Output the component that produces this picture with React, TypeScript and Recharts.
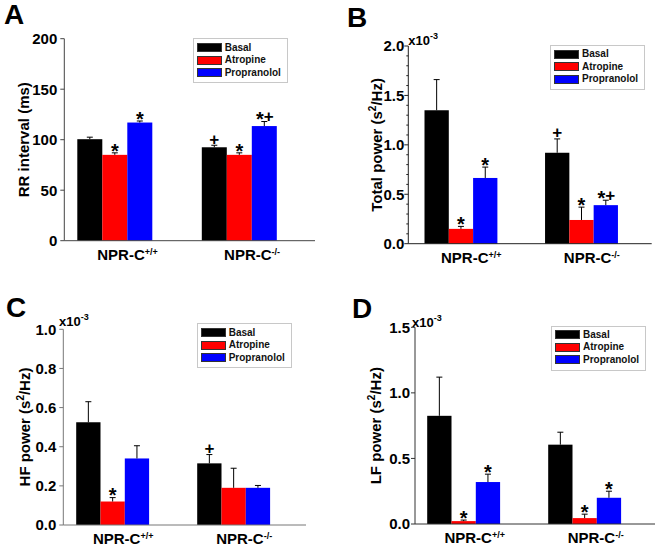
import { BarChart, Bar, XAxis, YAxis, Legend } from 'recharts'

const genotypes = ['+/+', '-/-']
const seriesNames = ['Basal', 'Atropine', 'Propranolol']
const seriesColors = ['#000000', '#ff0000', '#0000ff']

// A - RR interval (ms)
const rrBasal = [100.5, 92.5]
const rrAtropine = [85, 85]
const rrPropranolol = [117, 113.5]
const rrBasalErr = [2, 2]
const rrAtropineErr = [2, 2]
const rrPropranololErr = [1.5, 4.5]
const rrBasalMark = ['', '+']
const rrAtropineMark = ['*', '*']
const rrPropranololMark = ['*', '*+']
const rrTicks = [0, 50, 100, 150, 200]

// B - total power (x10^-3 s2/Hz)
const tpBasal = [1.35, 0.92]
const tpAtropine = [0.15, 0.24]
const tpPropranolol = [0.665, 0.39]
const tpBasalErr = [0.31, 0.14]
const tpAtropineErr = [0.025, 0.13]
const tpPropranololErr = [0.11, 0.05]
const tpBasalMark = ['', '+']
const tpAtropineMark = ['*', '*']
const tpPropranololMark = ['*', '*+']
const tpTicks = [0, 0.1, 0.2, 0.3, 0.4, 0.5, 0.6, 0.7, 0.8, 0.9, 1, 1.1, 1.2, 1.3, 1.4, 1.5, 1.6, 1.7, 1.8, 1.9, 2]

// C - HF power
const hfBasal = [0.525, 0.315]
const hfAtropine = [0.12, 0.19]
const hfPropranolol = [0.34, 0.19]
const hfBasalErr = [0.105, 0.045]
const hfAtropineErr = [0.02, 0.1]
const hfPropranololErr = [0.065, 0.012]
const hfBasalMark = ['', '+']
const hfAtropineMark = ['*', '']
const hfPropranololMark = ['', '']
const hfTicks = [0, 0.2, 0.4, 0.6, 0.8, 1]

// D - LF power
const lfBasal = [0.825, 0.605]
const lfAtropine = [0.022, 0.045]
const lfPropranolol = [0.32, 0.2]
const lfBasalErr = [0.295, 0.095]
const lfAtropineErr = [0.008, 0.03]
const lfPropranololErr = [0.06, 0.05]
const lfBasalMark = ['', '']
const lfAtropineMark = ['*', '*']
const lfPropranololMark = ['*', '*']
const lfTicks = [0, 0.5, 1, 1.5]

const FONT = '"Liberation Sans", Arial, sans-serif'

function buildRows(means: number[][], errs: number[][], marks: string[][]) {
  return genotypes.map((g, i) => {
    const row: any = { g }
    seriesNames.forEach((s, k) => {
      row[s] = means[k][i]
      row[s + 'Err'] = errs[k][i]
      row[s + 'Mark'] = marks[k][i]
    })
    return row
  })
}

const rrRows = buildRows(
  [rrBasal, rrAtropine, rrPropranolol],
  [rrBasalErr, rrAtropineErr, rrPropranololErr],
  [rrBasalMark, rrAtropineMark, rrPropranololMark],
)
const tpRows = buildRows(
  [tpBasal, tpAtropine, tpPropranolol],
  [tpBasalErr, tpAtropineErr, tpPropranololErr],
  [tpBasalMark, tpAtropineMark, tpPropranololMark],
)
const hfRows = buildRows(
  [hfBasal, hfAtropine, hfPropranolol],
  [hfBasalErr, hfAtropineErr, hfPropranololErr],
  [hfBasalMark, hfAtropineMark, hfPropranololMark],
)
const lfRows = buildRows(
  [lfBasal, lfAtropine, lfPropranolol],
  [lfBasalErr, lfAtropineErr, lfPropranololErr],
  [lfBasalMark, lfAtropineMark, lfPropranololMark],
)

type Cfg = {
  plot: [number, number, number, number]
  max: number
  ticks: number[]
  major: number
  decimals: number
  pad: [number, number]
  barSize: number
  legend: [number, number]
  tickGap: number
  catDx: number
  axisColor: string
}

const makeShape = (key: string) => (p: any) => {
  const { x, y, width, height, fill, payload } = p
  const v = payload[key]
  const per = v ? height / v : 0
  const errPx = payload[key + 'Err'] * per
  const cx = x + width / 2
  const capY = y - errPx
  const mark: string = payload[key + 'Mark']
  const star = (sx: number) => (
    <text x={sx} y={capY + 4.8} textAnchor="middle" fontSize={20} fontWeight="bold" fontFamily={FONT} fill="#000">*</text>
  )
  const plus = (sx: number, dy: number) => (
    <text x={sx} y={capY + dy} textAnchor="middle" fontSize={17} fontWeight="bold" fontFamily={FONT} fill="#000">+</text>
  )
  return (
    <g>
      <rect x={x} y={y} width={width} height={height} fill={fill} />
      {errPx > 0.5 && (
        <g stroke="#000" strokeWidth={1}>
          <line x1={cx} x2={cx} y1={y} y2={capY} />
          <line x1={cx - 3} x2={cx + 3} y1={capY} y2={capY} />
        </g>
      )}
      {mark === '*' && star(cx)}
      {mark === '+' && plus(cx, -0.5)}
      {mark === '*+' && (
        <g>
          {star(cx - 4.5)}
          {plus(cx + 4.5, 0.7)}
        </g>
      )}
    </g>
  )
}

function LegendBox(props: any) {
  const fromPayload = (props.payload || []).map((it: any) => ({ name: it.value, color: it.color }))
  const items = seriesNames.map((n, i) => {
    const hit = fromPayload.find((it: any) => it.name === n)
    return hit || { name: n, color: seriesColors[i] }
  })
  return (
    <div style={{
      width: 95, height: 45, boxSizing: 'border-box', border: '1px solid #c8c8c8',
      background: '#fff', padding: '2px 0 0 3px', fontFamily: FONT,
    }}>
      {items.map((it: any) => (
        <div key={it.name} style={{ display: 'flex', alignItems: 'center', height: 12.5 }}>
          <div style={{ width: 25, height: 9, background: it.color, boxSizing: 'border-box', border: '1px solid #333' }} />
          <span style={{ fontSize: 10, fontWeight: 'bold', marginLeft: 3, color: '#111', lineHeight: '12px' }}>{it.name}</span>
        </div>
      ))}
    </div>
  )
}

function Panel({ rows, cfg }: { rows: any[]; cfg: Cfg }) {
  const [x0, x1, y0, y1] = cfg.plot
  const yTick = (p: any) => {
    const v = p.payload.value
    const isMajor = Math.abs(v / cfg.major - Math.round(v / cfg.major)) < 1e-6
    return (
      <g>
        <line x1={x0 - (isMajor ? 4 : 2)} x2={x0} y1={p.y} y2={p.y} stroke={cfg.axisColor} />
        {isMajor && (
          <text x={x0 - cfg.tickGap} y={p.y} dy="0.36em" textAnchor="end" fontSize={15}
            fontWeight="bold" fontFamily={FONT} fill="#000">
            {v.toFixed(cfg.decimals)}
          </text>
        )}
      </g>
    )
  }
  const xTick = (p: any) => (
    <text x={p.x + cfg.catDx} y={y1 + 19} textAnchor="middle" fontSize={15} fontWeight="bold"
      fontFamily={FONT} fill="#000">
      NPR-C<tspan dy={-5} fontSize={9}>{p.payload.value}</tspan>
    </text>
  )
  return (
    <div style={{ position: 'absolute', left: 0, top: 0 }}>
      <BarChart
        width={660}
        height={547}
        data={rows}
        barGap={0}
        margin={{ top: y0, right: 660 - x1, bottom: 547 - y1 - 16, left: 0 }}
      >
        <XAxis
          dataKey="g"
          height={16}
          padding={{ left: cfg.pad[0], right: cfg.pad[1] }}
          axisLine={{ stroke: cfg.axisColor }}
          tickLine={false}
          tick={xTick}
          interval={0}
        />
        <YAxis
          type="number"
          width={x0}
          domain={[0, cfg.max]}
          ticks={cfg.ticks}
          interval={0}
          axisLine={{ stroke: cfg.axisColor }}
          tickLine={false}
          tick={yTick}
        />
        <Legend
          layout="horizontal"
          verticalAlign="middle"
          align="center"
          wrapperStyle={{ left: cfg.legend[0], top: cfg.legend[1], width: 95, height: 45 }}
          content={LegendBox}
        />
        {seriesNames.map((s, i) => (
          <Bar
            key={s}
            dataKey={s}
            name={s}
            fill={seriesColors[i]}
            barSize={cfg.barSize}
            shape={makeShape(s)}
            isAnimationActive={false}
          />
        ))}
      </BarChart>
    </div>
  )
}

const cfgA: Cfg = {
  plot: [64.3, 315, 38.7, 240.7], max: 200, ticks: rrTicks, major: 50, decimals: 0,
  pad: [-12, 13.7], barSize: 25, legend: [192.7, 38.3], tickGap: 7, catDx: 13, axisColor: '#444',
}
const cfgB: Cfg = {
  plot: [408.3, 651.7, 46, 243.7], max: 2, ticks: tpTicks, major: 0.5, decimals: 1,
  pad: [-7.8, 10.1], barSize: 24.3, legend: [550, 45], tickGap: 4, catDx: 10.5, axisColor: '#222',
}
const cfgC: Cfg = {
  plot: [63.3, 306, 329.3, 525], max: 1, ticks: hfTicks, major: 0.2, decimals: 1,
  pad: [-11.1, 11.8], barSize: 24.3, legend: [196.7, 323.3], tickGap: 7, catDx: 10.5, axisColor: '#777',
}
const cfgD: Cfg = {
  plot: [415, 655, 327.3, 524], max: 1.5, ticks: lfTicks, major: 0.5, decimals: 1,
  pad: [-11.8, 9.8], barSize: 24.3, legend: [551, 325.7], tickGap: 5, catDx: 11, axisColor: '#333',
}

function YLabel({ x, y, text, sup }: { x: number; y: number; text: string; sup?: boolean }) {
  return (
    <text x={x} y={y} transform={`rotate(-90 ${x} ${y})`} textAnchor="middle" fontSize={15}
      fontWeight="bold" fontFamily={FONT} fill="#000">
      {sup ? (
        <>
          {text} (s<tspan dy={-6} fontSize={10}>2</tspan><tspan dy={6}>/Hz)</tspan>
        </>
      ) : text}
    </text>
  )
}

function Exp({ x, y }: { x: number; y: number }) {
  return (
    <text x={x} y={y} fontSize={13} fontWeight="bold" fontFamily={FONT} fill="#000">
      x10<tspan dy={-6} fontSize={9}>-3</tspan>
    </text>
  )
}

export default function App() {
  return (
    <div style={{ position: 'absolute', left: 0, top: 0, width: 660, height: 547, background: '#fff', overflow: 'hidden' }}>
      <Panel rows={rrRows} cfg={cfgA} />
      <Panel rows={tpRows} cfg={cfgB} />
      <Panel rows={hfRows} cfg={cfgC} />
      <Panel rows={lfRows} cfg={cfgD} />
      <svg width={660} height={547} style={{ position: 'absolute', left: 0, top: 0, pointerEvents: 'none' }}>
        <g fontFamily={FONT} fontWeight="bold" fontSize={28} fill="#000">
          <text x={4} y={24}>A</text>
          <text x={347} y={27}>B</text>
          <text x={6} y={317}>C</text>
          <text x={352} y={318}>D</text>
        </g>
        <Exp x={408.3} y={45} />
        <Exp x={59} y={326} />
        <Exp x={412} y={326.5} />
        <YLabel x={29} y={139.7} text="RR interval (ms)" />
        <YLabel x={382} y={144.9} text="Total power" sup />
        <YLabel x={30} y={427} text="HF power" sup />
        <YLabel x={381} y={425.7} text="LF power" sup />
      </svg>
    </div>
  )
}
